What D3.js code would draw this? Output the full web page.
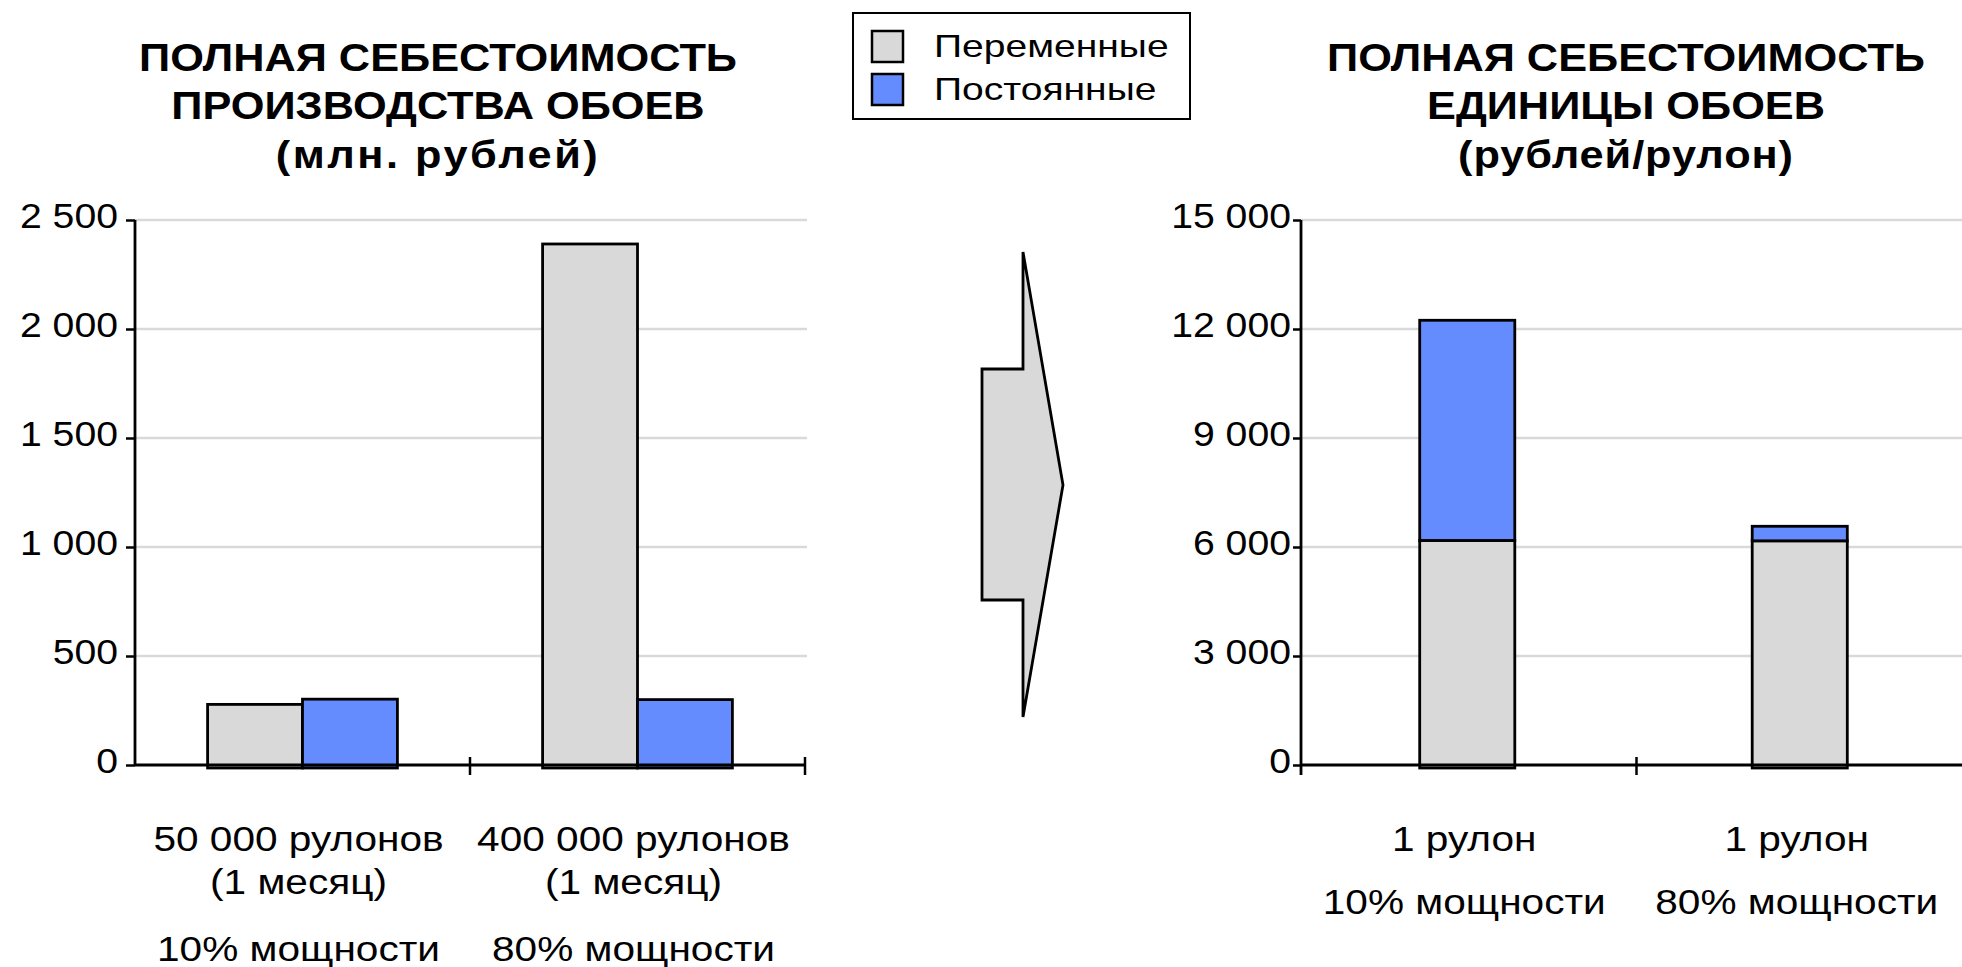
<!DOCTYPE html>
<html><head><meta charset="utf-8">
<script src="https://cdn.jsdelivr.net/npm/d3@7"></script>
<style>
body{margin:0;background:#fff;overflow:hidden}
text{font-family:"Liberation Sans",Arial,Helvetica,sans-serif;fill:#000}
</style>
</head><body>
<svg id="c" width="1962" height="967"></svg>
<script>
// ---------- data ----------
const seriesNames = ["Переменные", "Постоянные"];
const seriesColors = ["#d9d9d9", "#648cff"];

const leftCategories = ["50 000 рулонов", "400 000 рулонов"];
const leftLabelLines = [["50 000 рулонов", "(1 месяц)", "10% мощности"],
                        ["400 000 рулонов", "(1 месяц)", "80% мощности"]];
const leftVariable = [278, 2390];
const leftFixed = [302, 300];
const leftTicks = [0, 500, 1000, 1500, 2000, 2500];
const leftTickLabels = ["0", "500", "1 000", "1 500", "2 000", "2 500"];
const leftTitle = ["ПОЛНАЯ СЕБЕСТОИМОСТЬ", "ПРОИЗВОДСТВА ОБОЕВ", "(млн. рублей)"];

const rightCategories = ["1 рулон (10%)", "1 рулон (80%)"];
const rightLabelLines = [["1 рулон", "10% мощности"], ["1 рулон", "80% мощности"]];
const rightVariable = [6180, 6170];
const rightFixed = [6060, 400];
const rightTicks = [0, 3000, 6000, 9000, 12000, 15000];
const rightTickLabels = ["0", "3 000", "6 000", "9 000", "12 000", "15 000"];
const rightTitle = ["ПОЛНАЯ СЕБЕСТОИМОСТЬ", "ЕДИНИЦЫ ОБОЕВ", "(рублей/рулон)"];

// ---------- helpers ----------
const svg = d3.select("#c");
const GRID = "#d9d9d9";
const BAR_STROKE = 2.8;
function txt(g, x, y, s, size, weight, anchor, sx, ls) {
  const t = g.append("text")
    .attr("transform", `translate(${x},${y}) scale(${sx},1)`)
    .attr("text-anchor", anchor)
    .style("font-size", size + "px")
    .style("font-weight", weight)
    .text(s);
  if (ls) t.style("letter-spacing", ls + "px");
  return t;
}

const plotTop = 220, plotBottom = 765;

// ---------- left chart ----------
{
  const g = svg.append("g");
  const x0 = 135, x1 = 805;
  const y = d3.scaleLinear().domain([0, 2500]).range([plotBottom, plotTop]);
  const x = d3.scaleBand().domain(leftCategories).range([x0, x1]).padding(0);
  const xs = d3.scaleBand().domain(seriesNames).range([0, x.bandwidth()])
               .paddingInner(0).paddingOuter(0.765);

  g.selectAll(".grid").data(leftTicks.slice(1)).join("line")
    .attr("x1", x0).attr("x2", 807).attr("y1", d => y(d)).attr("y2", d => y(d))
    .attr("stroke", GRID).attr("stroke-width", 2.5);

  const rows = leftCategories.map((c, i) => ({c, vals: [leftVariable[i], leftFixed[i]]}));
  rows.forEach(r => {
    r.vals.forEach((v, j) => {
      g.append("rect")
        .attr("x", x(r.c) + xs(seriesNames[j]))
        .attr("width", xs.bandwidth())
        .attr("y", y(v))
        .attr("height", y(0) - y(v) + 3)
        .attr("fill", seriesColors[j])
        .attr("stroke", "#000").attr("stroke-width", BAR_STROKE);
    });
  });

  const ya = d3.axisLeft(y).tickValues(leftTicks)
    .tickFormat((d, i) => leftTickLabels[i]).tickSize(9).tickPadding(0);
  const ag = g.append("g").attr("transform", `translate(${x0},0)`).call(ya);
  ag.select(".domain").remove();
  ag.selectAll(".tick line").attr("stroke", "#000").attr("stroke-width", 2.5);
  ag.selectAll(".tick text").attr("x", null).attr("dy", null)
    .attr("transform", "translate(-17,7) scale(1.12,1)")
    .style("font-size", "35px").style("font-family", null);
  g.append("line").attr("x1", x0).attr("x2", x0).attr("y1", y(2500)).attr("y2", y(0))
    .attr("stroke", "#000").attr("stroke-width", 2.8);

  g.append("line").attr("x1", x0).attr("x2", x1).attr("y1", y(0)).attr("y2", y(0))
    .attr("stroke", "#000").attr("stroke-width", 2.8);
  leftCategories.forEach(c => {
    const xb = x(c) + x.bandwidth();
    g.append("line").attr("x1", xb).attr("x2", xb).attr("y1", y(0) - 8).attr("y2", y(0) + 10)
      .attr("stroke", "#000").attr("stroke-width", 2.5);
  });

  const lineY = [851, 894, 961];
  leftLabelLines.forEach((lines, i) => {
    const cx = x(leftCategories[i]) + x.bandwidth() / 2 - 4;
    lines.forEach((s, k) => txt(g, cx, lineY[k], s, 35, "normal", "middle", 1.16));
  });

  const tY = [71, 119, 168];
  leftTitle.forEach((s, k) => txt(g, 438, tY[k], s, 38, "bold", "middle", 1.14, k === 2 ? 2.2 : 0));
}

// ---------- right chart ----------
{
  const g = svg.append("g");
  const x0 = 1301, x1 = 1972;
  const y = d3.scaleLinear().domain([0, 15000]).range([plotBottom, plotTop]);
  const xb = d3.scaleBand().domain(rightCategories).range([x0, x1]).padding(0);
  const x = d3.scaleBand().domain(rightCategories).range([x0, 1966])
              .paddingInner(0.714).paddingOuter(0.357);

  g.selectAll(".grid").data(rightTicks.slice(1)).join("line")
    .attr("x1", x0).attr("x2", 1962).attr("y1", d => y(d)).attr("y2", d => y(d))
    .attr("stroke", GRID).attr("stroke-width", 2.5);

  const stack = d3.stack().keys([0, 1])(rightCategories.map((c, i) => ({c, 0: rightVariable[i], 1: rightFixed[i]})));
  stack.forEach((layer, j) => {
    layer.forEach(d => {
      const bottom = j === 0 ? y(d[0]) + 3 : y(d[0]);
      g.append("rect")
        .attr("x", x(d.data.c)).attr("width", x.bandwidth())
        .attr("y", y(d[1])).attr("height", bottom - y(d[1]))
        .attr("fill", seriesColors[j])
        .attr("stroke", "#000").attr("stroke-width", BAR_STROKE);
    });
  });

  const ya = d3.axisLeft(y).tickValues(rightTicks)
    .tickFormat((d, i) => rightTickLabels[i]).tickSize(8).tickPadding(0);
  const ag = g.append("g").attr("transform", `translate(${x0},0)`).call(ya);
  ag.select(".domain").remove();
  ag.selectAll(".tick line").attr("stroke", "#000").attr("stroke-width", 2.5);
  ag.selectAll(".tick text").attr("x", null).attr("dy", null)
    .attr("transform", "translate(-10,7) scale(1.12,1)")
    .style("font-size", "35px").style("font-family", null);
  g.append("line").attr("x1", x0).attr("x2", x0).attr("y1", y(15000)).attr("y2", y(0) + 10)
    .attr("stroke", "#000").attr("stroke-width", 2.8);

  g.append("line").attr("x1", x0).attr("x2", 1962).attr("y1", y(0)).attr("y2", y(0))
    .attr("stroke", "#000").attr("stroke-width", 2.8);
  const bx = xb(rightCategories[0]) + xb.bandwidth();
  g.append("line").attr("x1", bx).attr("x2", bx).attr("y1", y(0) - 8).attr("y2", y(0) + 10)
    .attr("stroke", "#000").attr("stroke-width", 2.5);

  const lineY = [851, 914];
  rightLabelLines.forEach((lines, i) => {
    const cx = x(rightCategories[i]) + x.bandwidth() / 2 - 3;
    lines.forEach((s, k) => txt(g, cx, lineY[k], s, 35, "normal", "middle", 1.16));
  });

  const tY = [71, 119, 168];
  rightTitle.forEach((s, k) => txt(g, 1626, tY[k], s, 38, "bold", "middle", 1.14, k === 2 ? 0.8 : 0));
}

// ---------- arrow ----------
{
  const arrowShape = [[41, 0], [41, 117], [0, 117], [0, 348], [41, 348], [41, 465], [81, 233]];
  svg.append("path")
    .attr("transform", "translate(982,252)")
    .attr("d", d3.line()(arrowShape) + "Z")
    .attr("fill", "#d9d9d9").attr("stroke", "#000").attr("stroke-width", 2.8)
    .attr("stroke-linejoin", "miter");
}

// ---------- legend ----------
{
  const g = svg.append("g").attr("transform", "translate(853,13)");
  g.append("rect").attr("width", 337).attr("height", 106)
    .attr("fill", "#fff").attr("stroke", "#000").attr("stroke-width", 2);
  seriesNames.forEach((s, i) => {
    g.append("rect").attr("x", 19).attr("y", 18 + i * 43).attr("width", 31).attr("height", 31)
      .attr("fill", seriesColors[i]).attr("stroke", "#000").attr("stroke-width", 2.5);
    txt(g, 81, 44 + i * 43, s, 32, "normal", "start", 1.22);
  });
}
</script>
</body></html>
